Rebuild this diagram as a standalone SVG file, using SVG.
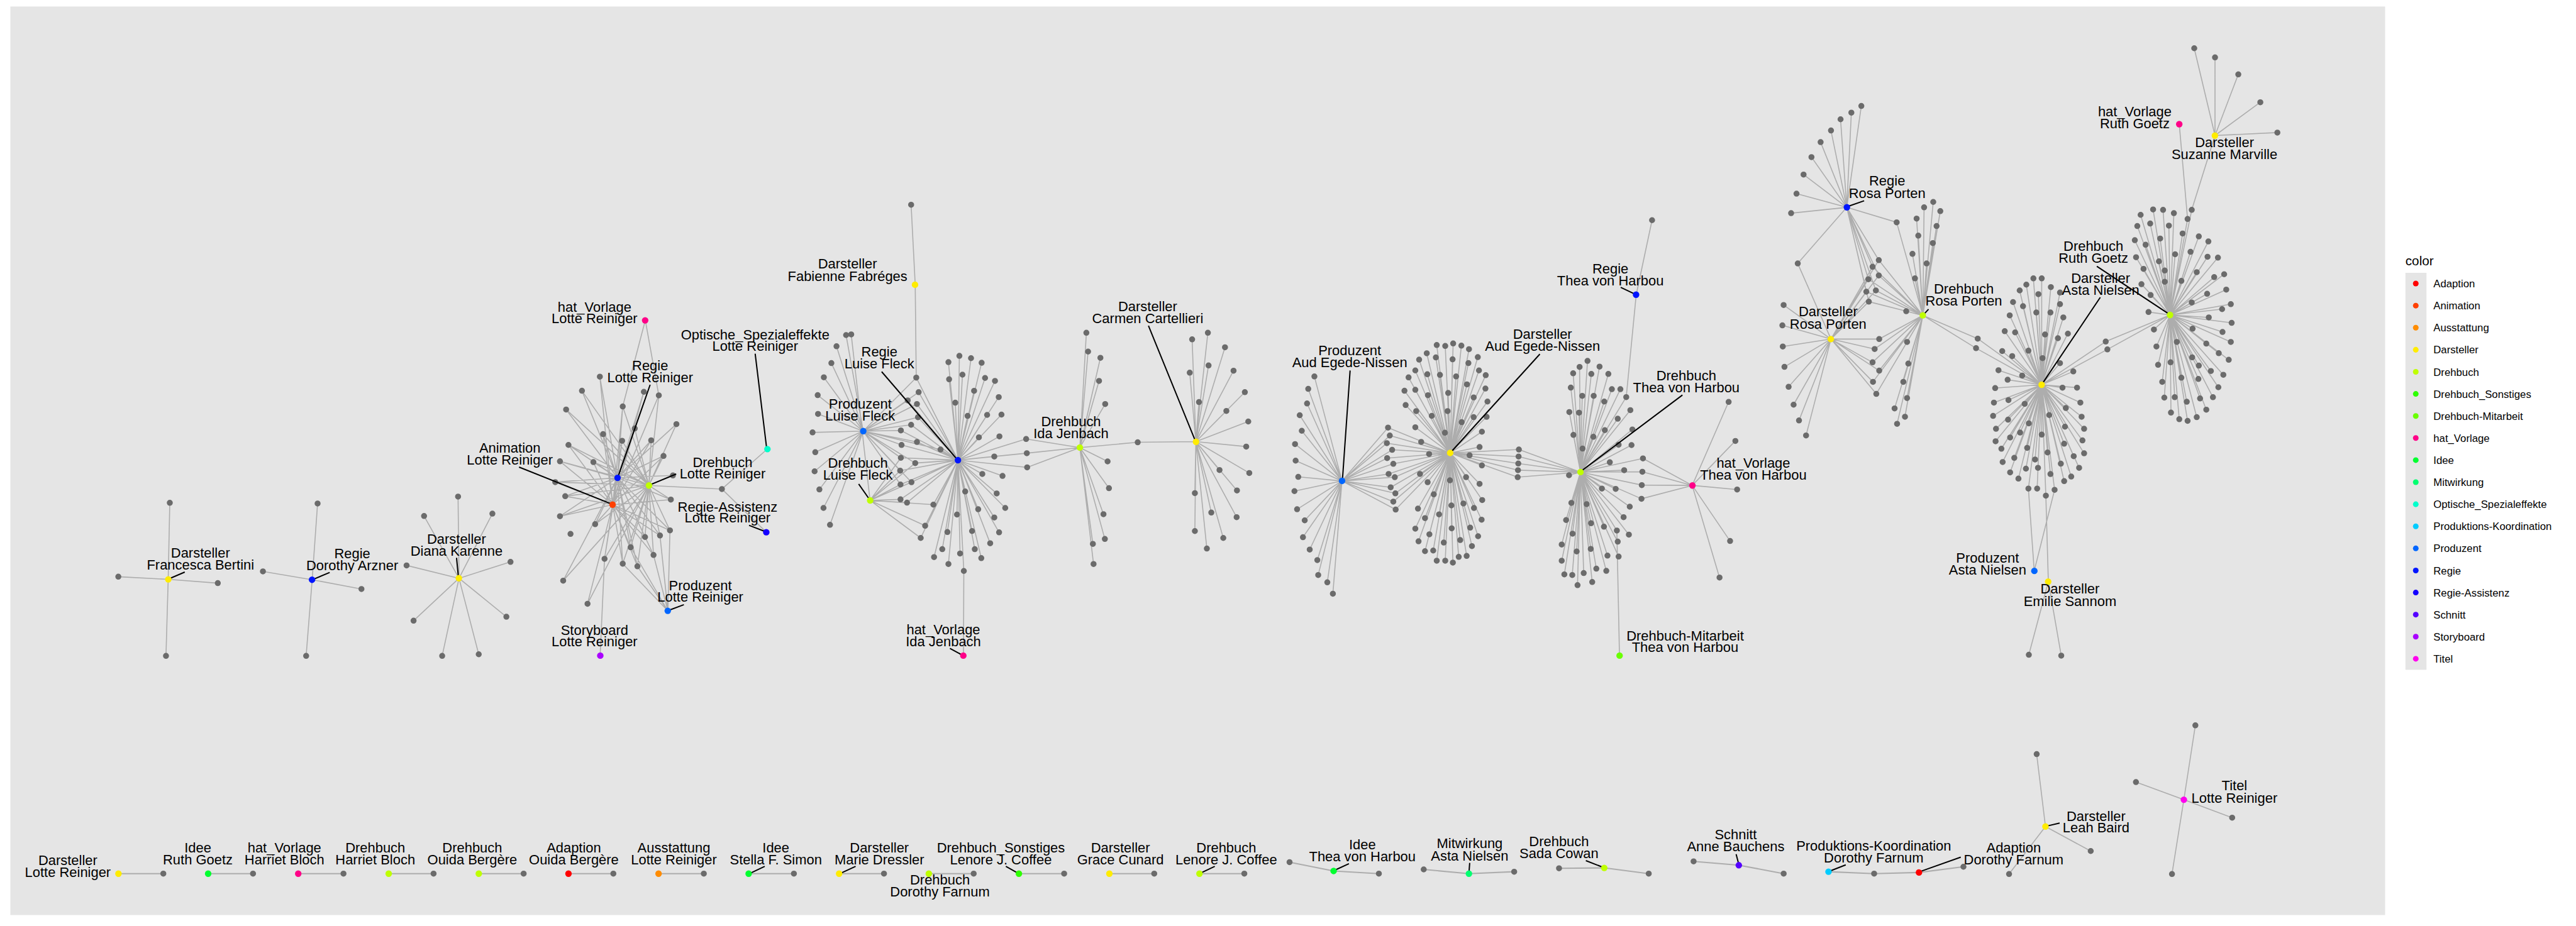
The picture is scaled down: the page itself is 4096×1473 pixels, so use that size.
<svg xmlns="http://www.w3.org/2000/svg" width="4096" height="1473" viewBox="0 0 4096 1473">
<style>
.e{fill:none;stroke:#ADADAD;stroke-width:1.6;stroke-linejoin:round;stroke-linecap:round;vector-effect:non-scaling-stroke}
.eb{fill:none;stroke:#ADADAD;stroke-width:2.1;stroke-linecap:round;vector-effect:non-scaling-stroke}
.n{fill:none;stroke:#6B6B6B;stroke-width:9.5;stroke-linecap:round;vector-effect:non-scaling-stroke}
.s{fill:none;stroke:#000;stroke-width:3.3}
.t{font-family:"Liberation Sans",Arial,Helvetica,sans-serif;font-size:36px;fill:#000;text-anchor:middle}
.lg{font-family:"Liberation Sans",Arial,Helvetica,sans-serif;font-size:27.5px;fill:#000}
.lt{font-family:"Liberation Sans",Arial,Helvetica,sans-serif;font-size:34px;fill:#000}
.ada{fill:#FF0000}.ani{fill:#FF4000}.aus{fill:#FF8C00}.dar{fill:#FFEC00}.dre{fill:#BFFF00}.dso{fill:#2EFF00}.dmi{fill:#6AFF00}.hvo{fill:#FF0088}.ide{fill:#00FF30}.mit{fill:#00FF70}.opt{fill:#00FFCC}.pko{fill:#00CCFF}.pro{fill:#0066FF}.reg{fill:#0015FF}.ras{fill:#1500FF}.sch{fill:#5500FF}.sto{fill:#AA00FF}.tit{fill:#FF00EE}
</style>
<rect width="4096" height="1473" fill="#FFFFFF"/>
<g transform="scale(0.609524)">
<rect x="27" y="17" width="6195" height="2371" fill="#E5E5E5"/>

<g id="connectors">
<g transform="translate(200 1200) scale(.8291 .3827)">
<path class="e" d="M293 293 288 815 131 797M444 841 288 815 281 1337M758 298 741 818 586 761M896 881 741 818 722 1337M1200 251 1203 808 1093 383 1203 808 1308 367 1203 808 1038 720 1203 808 1365 696 1203 808 1060 1097 1203 808 1352 1070 1203 808 1150 1337 1203 808 1265 1326"/>
</g>
<g transform="translate(1000 750) scale(.7653 .6696)">
<path class="e" d="M798 742 738 348 782 847M798 742 677 403 905 772M798 742 888 407 782 847M905 772 939 421 782 847M939 421 893 128 816 464 798 742M798 742 623 476 905 772M905 772 816 464 782 847M798 742 857 550 905 772 857 550 782 847M798 742 999 533 905 772M798 742 749 572 905 772 749 572 782 847M798 742 631 614 905 772 631 614 782 847M798 742 814 598 905 772 814 598 782 847M798 742 913 596 905 772 913 596 782 847M798 742 955 657 905 772 955 657 782 847M798 742 602 678 905 772 602 678 782 847M798 742 716 681 905 772 716 681 782 847M798 742 987 733 905 772M798 742 586 759 905 772 586 759 782 847M798 742 620 814 905 772 620 814 782 847M798 742 980 827 905 772 980 827 782 847M798 742 602 892 905 772 602 892 782 847M798 742 722 923 905 772 722 923 782 847M798 742 977 947 905 772 977 947 782 847M977 947 970 1261M798 742 892 973 905 772 892 973 782 847M798 742 943 967 905 772 943 967 782 847M943 967 970 1261M798 742 843 1013 905 772 843 1013 782 847M843 1013 970 1261M798 742 921 1043 905 772 921 1043 782 847M921 1043 970 1261M798 742 754 1058 905 772 754 1058 782 847M754 1058 739 1436M798 742 816 1077 905 772 816 1077 782 847M816 1077 970 1261M798 742 866 1087 905 772 866 1087 782 847M866 1087 970 1261M798 742 613 1143 905 772M782 847 696 1233 905 772M905 772 1154 786 1309 630M1154 786 1306 955"/>
</g>
<g transform="translate(2050 450) scale(.8929 .861)">
<path class="e" d="M366 98 378 340 381 622M226 784 176 493 226 784 148 527 226 784 133 578 226 784 111 621 226 784 93 675 226 784 94 732 226 784 78 788 226 784 86 848 226 784 84 906 226 784 98 961 226 784 110 1017 226 784 129 1068M191 491 246 994M226 784 381 622 503 872 388 666 226 784 356 691 503 872 383 702 226 784 386 742 503 872 366 765 226 784 336 782 503 872 383 817 226 784 338 826 503 872 452 840 226 784M226 784 336 865 503 872 378 881 226 784 334 904 503 872 367 939 226 784 335 946 503 872M246 994 336 865 246 994 378 881 246 994 334 904 246 994 367 939 246 994 335 946M246 994 335 991 503 872 354 1001 246 994 431 1007 503 872 407 1071 246 994 394 1108 503 872M503 872 475 575 503 872 507 556 503 872 541 563 503 872 572 577 503 872 477 627 503 872 516 613 503 872 582 623 503 872 611 632 503 872 550 662 503 872 622 681 503 872 495 698 503 872 531 738 503 872 588 735 503 872 630 734 503 872 564 803 503 872 624 800 503 872 609 861 503 872 574 914 503 872 633 920 503 872 524 967 503 872 616 973 503 872 641 1017 503 872 562 1021 503 872 500 1037 503 872 609 1046 503 872 472 1090 503 872 544 1087 503 872 623 1091 503 872 597 1124 503 872 457 1142 503 872 552 1142 503 872 433 1166 503 872 509 1155 503 872 475 1187 503 872 571 1169 503 872 520 1208M503 872 702 808 859 834 704 851 503 872 705 894 859 834M859 834 878 486 859 834 883 543 859 834 919 562 859 834 915 632 859 834 933 702 859 834 940 876 859 834 944 957 859 834 928 1036 859 834 932 1111 859 834 897 1126 859 834 899 1187M859 834 1028 818 1198 816M1198 816 1187 506 1198 816 1233 486 1198 816 1283 530 1198 816 1180 607 1198 816 1235 585 1198 816 1308 601 1198 816 1341 666 1198 816 1207 696 1198 816 1287 723 1198 816 1351 755 1198 816 1345 831 1198 816 1354 911 1198 816 1267 902 1198 816 1318 964 1198 816 1195 972 1198 816 1317 1045 1198 816 1243 1031 1198 816 1278 1108 1198 816 1195 1087 1198 816 1230 1140M520 1208 519 1465"/>
</g>
<g transform="translate(3350 500) scale(.7653 .829)">
<path class="e" d="M197 911 103 582 197 911 82 621 197 911 78 667 197 911 53 704 197 911 60 753 197 911 37 795 197 911 39 847 197 911 48 898 197 911 35 943 197 911 44 1000 197 911 70 1035 197 911 64 1088 197 911 87 1127 197 911 113 1160 197 911 116 1207 197 911 147 1230 197 911 166 1266M197 911 354 743 566 823 360 768 197 911 350 792 566 823 368 813 197 911 351 839 566 823 372 857 197 911 356 889 566 823 377 899 197 911 363 931 566 823 379 950 197 911 372 976 566 823 380 1001 197 911M566 823 520 483 566 823 549 486 566 823 576 478 566 823 604 485 566 823 630 496 566 823 486 509 566 823 517 522 566 823 574 528 566 823 628 540 566 823 660 521 566 823 460 529 566 823 447 563 566 823 488 575 566 823 531 577 566 823 586 582 566 823 664 563 566 823 687 578 566 823 424 585 566 823 410 627 566 823 447 624 566 823 490 641 566 823 559 634 566 823 623 607 566 823 686 620 566 823 646 648 566 823 414 672 566 823 450 691 566 823 503 706 566 823 557 691 566 823 605 726 566 823 646 710 566 823 690 709 566 823 693 661 566 823 447 742 566 823 467 788 566 823 548 759 566 823 494 826 566 823 674 756 566 823 666 804 566 823 632 830 566 823 674 862 566 823 463 889 566 823 489 915 566 823 565 909 566 823 620 899 566 823 666 920 566 823 510 953 566 823 456 998 566 823 570 988 566 823 611 982 566 823 647 996 566 823 675 971 566 823 528 1016 566 823 480 1028 566 823 447 1061 566 823 571 1060 566 823 634 1058 566 823 673 1033 566 823 495 1079 566 823 458 1101 566 823 544 1105 566 823 600 1097 566 823 661 1085 566 823 480 1132 566 823 508 1130 566 823 640 1116 566 823 520 1162 566 823 549 1162 566 823 575 1168 566 823 595 1150 566 823 622 1147M566 823 800 812 1010 883 799 834 566 823 798 856 1010 883 797 877 566 823 796 899 1010 883M1010 883 1007 552 1010 883 1034 533 1010 883 1075 551 1010 883 985 572 1010 883 1047 574 1010 883 1105 574 1010 883 977 617 1010 883 1016 643 1010 883 1055 643 1010 883 1117 622 1010 883 1146 622 1010 883 1166 647 1010 883 972 694 1010 883 1005 696 1010 883 1091 661 1010 883 1180 688 1010 883 986 766 1010 883 1054 772 1010 883 1093 751 1010 883 1137 715 1010 883 1187 749 1010 883 1017 809 1010 883 1140 797 1010 883 1184 798 1010 883 971 893 1010 883 1110 852 1010 883 1159 877 1010 883 1083 935 1010 883 1130 936 1010 883 1178 992 1010 883 1157 1025 1010 883 979 980 1010 883 1031 984 1010 883 961 1034 1010 883 1046 1044 1010 883 1090 1055 1010 883 1134 1067 1010 883 1175 1080 1010 883 983 1077 1010 883 946 1111 1010 883 1137 1102 1010 883 997 1133 1010 883 1045 1125 1010 883 946 1162 1010 883 1102 1146 1010 883 1140 1149 1010 883 955 1205 1010 883 982 1207 1010 883 1021 1201 1010 883 1064 1187 1010 883 1098 1194 1010 883 1000 1239 1010 883 1050 1229M1010 883 1223 840 1391 925 1221 882 1010 883 1219 924 1391 925 1218 967 1010 883M1391 925 1515 662 1391 925 1538 785 1391 925 1544 938 1391 925 1520 1100 1391 925 1484 1215M1254 90 1200 325 1166 647M1143 1461 1134 1067"/>
</g>
<g transform="translate(4500 50) scale(1.0842)">
<path class="e" d="M293 453 328 209 293 453 304 225 293 453 278 241 293 453 255 268 293 453 230 296 293 453 208 332 293 453 189 374 293 453 172 420 293 453 159 467M293 453 413 489 476 713M293 453 175 588 255 770M293 453 370 580 476 713 355 596 293 453 370 617 476 713 345 626 293 453 340 656 476 713 363 653 293 453 346 680 476 713M255 770 370 580 255 770 355 596 255 770 370 617 255 770 345 626 255 770 340 656 255 770 363 653 255 770 346 680M255 770 141 688 255 770 138 737 255 770 139 788 255 770 143 837 255 770 153 885 255 770 165 928 255 770 178 966 255 770 195 1002M255 770 371 770 476 713 360 794 255 770 355 826 476 713 371 846 255 770 356 873 476 713 364 902 255 770M476 713 501 440 476 713 479 453 476 713 518 462 476 713 461 480 476 713 509 498 476 713 465 521 476 713 500 539 476 713 451 565 476 713 485 588 476 713 457 624 476 713 436 703 476 713 438 777 476 713 441 829 476 713 429 873 476 713 438 912 476 713 408 937 476 713 433 957 476 713 414 974M476 713 608 769 762 880 604 792 476 713M762 880 742 624 762 880 762 624 762 880 725 639 762 880 709 653 762 880 784 645 762 880 754 662 762 880 806 658 762 880 693 681 762 880 717 691 762 880 806 686 762 880 685 713 762 880 749 706 762 880 783 706 762 880 814 718 762 880 673 751 762 880 698 754 762 880 770 759 762 880 801 768 762 880 825 757 762 880 730 798 762 880 667 799 762 880 691 811 762 880 764 816 762 880 806 828 762 880 658 845 762 880 715 858 762 880 838 848 762 880 680 868 762 880 650 888 762 880 812 887 762 880 847 887 762 880 682 917 762 880 647 923 762 880 855 923 762 880 721 926 762 880 820 936 762 880 645 955 762 880 681 964 762 880 780 953 762 880 858 957 762 880 731 973 762 880 818 981 762 880 652 986 762 880 864 986 762 880 710 995 762 880 762 1000 762 880 651 1016 762 880 686 1007 762 880 816 1022 762 880 860 1014 762 880 665 1034 762 880 727 1032 762 880 776 1043 762 880 839 1052 762 880 864 1045 762 880 696 1056 762 880 746 1060 762 880 808 1070 762 880 852 1080 762 880 668 1066 762 880 686 1091 762 880 724 1082 762 880 753 1080 762 880 783 1095 762 880 833 1101 762 880 706 1106 762 880 816 1112 762 880 730 1130 762 880 751 1130 762 880 772 1147 762 880 793 1133M762 880 916 776 1071 712 920 795 762 880M1071 712 1000 471 1071 712 1030 458 1071 712 1054 459 1071 712 1080 467 1071 712 992 498 1071 712 1023 492 1071 712 1068 497 1071 712 1113 481 1071 712 1123 459 1071 712 986 532 1071 712 1012 543 1071 712 1047 528 1071 712 1101 516 1071 712 1140 523 1071 712 1163 535 1071 712 989 573 1071 712 1044 583 1071 712 1083 566 1071 712 1120 560 1071 712 1161 572 1071 712 1186 574 1071 712 1007 601 1071 712 1058 605 1071 712 1098 630 1071 712 1135 609 1071 712 1177 621 1071 712 1201 614 1071 712 1002 638 1071 712 1058 632 1071 712 1024 664 1071 712 1160 661 1071 712 1206 651 1071 712 1123 682 1071 712 1217 686 1071 712 1019 705 1071 712 1032 747 1071 712 1164 718 1071 712 1196 698 1071 712 1219 731 1071 712 1125 745 1071 712 1197 753 1071 712 1217 777 1071 712 1038 788 1071 712 1087 777 1071 712 1158 781 1071 712 1188 804 1071 712 1212 820 1071 712 1042 832 1071 712 1072 826 1071 712 1124 814 1071 712 1140 834 1071 712 1169 847 1071 712 1199 856 1071 712 1098 863 1071 712 1052 873 1071 712 1139 866 1071 712 1187 886 1071 712 1057 911 1071 712 1082 910 1071 712 1111 921 1071 712 1143 913 1071 712 1174 910 1071 712 1073 947 1071 712 1093 963 1071 712 1113 967 1071 712 1135 958 1071 712 1158 940M1093 253 1113 481M1179 280 1123 459M1179 280 1129 70 1179 280 1179 92 1179 280 1235 133 1179 280 1288 200 1179 280 1329 273M730 1130 744 1328 793 1133M772 1147 778 1354 731 1530M778 1354 809 1532"/>
</g>
<path class="eb" d="M309 2280H426M543 2280H660M778 2280H896M1014 2280H1131M1249 2280H1366M1483 2280H1600M1718 2280H1836M1953 2280H2071M2189 2280H2306M2423 2280H2540M2658 2280H2776M2894 2280H3011M3129 2280H3246M3364 2250 3479 2273 3597 2280M3714 2269 3832 2280 3950 2275M4067 2266 4185 2265 4301 2280M4418 2248 4536 2258 4653 2280M4770 2275 4889 2280 5006 2277 5122 2262"/>
<path class="e" d="M5313 1968 5336 2157 5241 2281M5336 2157 5454 2221M5727 1893 5697 2087 5666 2281M5572 2041 5697 2087 5823 2134"/>
</g>

<g id="leaf-nodes">
<path class="n" transform="translate(200 1200) scale(.8291 .3827)" d="M293 293h.1M131 797h.1M444 841h.1M281 1337h.1M758 298h.1M586 761h.1M896 881h.1M722 1337h.1M1200 251h.1M1093 383h.1M1308 367h.1M1038 720h.1M1365 696h.1M1060 1097h.1M1352 1070h.1M1150 1337h.1M1265 1326h.1"/>
<path class="n" transform="translate(1000 750) scale(.7653 .6696)" d="M738 348h.1M677 403h.1M888 407h.1M939 421h.1M623 476h.1M816 464h.1M857 550h.1M999 533h.1M749 572h.1M631 614h.1M814 598h.1M913 596h.1M955 657h.1M602 678h.1M716 681h.1M987 733h.1M586 759h.1M620 814h.1M980 827h.1M602 892h.1M722 923h.1M638 961h.1M977 947h.1M892 973h.1M943 967h.1M843 1013h.1M921 1043h.1M754 1058h.1M816 1077h.1M866 1087h.1M613 1143h.1M696 1233h.1M1154 786h.1"/>
<path class="n" transform="translate(2050 450) scale(.8929 .861)" d="M366 98h.1M381 622h.1M176 493h.1M191 491h.1M148 527h.1M133 578h.1M111 621h.1M93 675h.1M94 732h.1M78 788h.1M86 848h.1M84 906h.1M98 961h.1M110 1017h.1M129 1068h.1M388 666h.1M356 691h.1M383 702h.1M386 742h.1M366 765h.1M336 782h.1M383 817h.1M338 826h.1M452 840h.1M336 865h.1M378 881h.1M334 904h.1M367 939h.1M335 946h.1M335 991h.1M354 1001h.1M431 1007h.1M407 1071h.1M394 1108h.1M475 575h.1M507 556h.1M541 563h.1M572 577h.1M477 627h.1M516 613h.1M582 623h.1M611 632h.1M550 662h.1M622 681h.1M495 698h.1M531 738h.1M588 735h.1M630 734h.1M564 803h.1M624 800h.1M609 861h.1M574 914h.1M633 920h.1M524 967h.1M616 973h.1M641 1017h.1M562 1021h.1M500 1037h.1M609 1046h.1M472 1090h.1M544 1087h.1M623 1091h.1M597 1124h.1M457 1142h.1M552 1142h.1M433 1166h.1M509 1155h.1M475 1187h.1M571 1169h.1M520 1208h.1M702 808h.1M704 851h.1M705 894h.1M878 486h.1M883 543h.1M919 562h.1M915 632h.1M933 702h.1M940 876h.1M944 957h.1M928 1036h.1M932 1111h.1M897 1126h.1M899 1187h.1M1028 818h.1M1187 506h.1M1233 486h.1M1283 530h.1M1180 607h.1M1235 585h.1M1308 601h.1M1341 666h.1M1207 696h.1M1287 723h.1M1351 755h.1M1345 831h.1M1354 911h.1M1267 902h.1M1318 964h.1M1195 972h.1M1317 1045h.1M1243 1031h.1M1278 1108h.1M1195 1087h.1M1230 1140h.1"/>
<path class="n" transform="translate(3350 500) scale(.7653 .829)" d="M103 582h.1M82 621h.1M78 667h.1M53 704h.1M60 753h.1M37 795h.1M39 847h.1M48 898h.1M35 943h.1M44 1000h.1M70 1035h.1M64 1088h.1M87 1127h.1M113 1160h.1M116 1207h.1M147 1230h.1M166 1266h.1M354 743h.1M360 768h.1M350 792h.1M368 813h.1M351 839h.1M372 857h.1M356 889h.1M377 899h.1M363 931h.1M379 950h.1M372 976h.1M380 1001h.1M520 483h.1M549 486h.1M576 478h.1M604 485h.1M630 496h.1M486 509h.1M517 522h.1M574 528h.1M628 540h.1M660 521h.1M460 529h.1M447 563h.1M488 575h.1M531 577h.1M586 582h.1M664 563h.1M687 578h.1M424 585h.1M410 627h.1M447 624h.1M490 641h.1M559 634h.1M623 607h.1M686 620h.1M646 648h.1M414 672h.1M450 691h.1M503 706h.1M557 691h.1M605 726h.1M646 710h.1M690 709h.1M693 661h.1M447 742h.1M467 788h.1M548 759h.1M494 826h.1M674 756h.1M666 804h.1M632 830h.1M674 862h.1M463 889h.1M489 915h.1M565 909h.1M620 899h.1M666 920h.1M510 953h.1M456 998h.1M570 988h.1M611 982h.1M647 996h.1M675 971h.1M528 1016h.1M480 1028h.1M447 1061h.1M571 1060h.1M634 1058h.1M673 1033h.1M495 1079h.1M458 1101h.1M544 1105h.1M600 1097h.1M661 1085h.1M480 1132h.1M508 1130h.1M640 1116h.1M520 1162h.1M549 1162h.1M575 1168h.1M595 1150h.1M622 1147h.1M800 812h.1M799 834h.1M798 856h.1M797 877h.1M796 899h.1M1007 552h.1M1034 533h.1M1075 551h.1M985 572h.1M1047 574h.1M1105 574h.1M977 617h.1M1016 643h.1M1055 643h.1M1117 622h.1M1146 622h.1M1166 647h.1M972 694h.1M1005 696h.1M1091 661h.1M1180 688h.1M986 766h.1M1054 772h.1M1093 751h.1M1137 715h.1M1187 749h.1M1017 809h.1M1140 797h.1M1184 798h.1M971 893h.1M1110 852h.1M1159 877h.1M1083 935h.1M1130 936h.1M1178 992h.1M1157 1025h.1M979 980h.1M1031 984h.1M961 1034h.1M1046 1044h.1M1090 1055h.1M1134 1067h.1M1175 1080h.1M983 1077h.1M946 1111h.1M1137 1102h.1M997 1133h.1M1045 1125h.1M946 1162h.1M1102 1146h.1M1140 1149h.1M955 1205h.1M982 1207h.1M1021 1201h.1M1064 1187h.1M1098 1194h.1M1000 1239h.1M1050 1229h.1M1223 840h.1M1221 882h.1M1219 924h.1M1218 967h.1M1515 662h.1M1538 785h.1M1544 938h.1M1520 1100h.1M1484 1215h.1M1254 90h.1"/>
<path class="n" transform="translate(4500 50) scale(1.0842)" d="M328 209h.1M304 225h.1M278 241h.1M255 268h.1M230 296h.1M208 332h.1M189 374h.1M172 420h.1M159 467h.1M413 489h.1M175 588h.1M370 580h.1M355 596h.1M370 617h.1M345 626h.1M340 656h.1M363 653h.1M346 680h.1M141 688h.1M138 737h.1M139 788h.1M143 837h.1M153 885h.1M165 928h.1M178 966h.1M195 1002h.1M371 770h.1M360 794h.1M355 826h.1M371 846h.1M356 873h.1M364 902h.1M501 440h.1M479 453h.1M518 462h.1M461 480h.1M509 498h.1M465 521h.1M500 539h.1M451 565h.1M485 588h.1M457 624h.1M436 703h.1M438 777h.1M441 829h.1M429 873h.1M438 912h.1M408 937h.1M433 957h.1M414 974h.1M608 769h.1M604 792h.1M742 624h.1M762 624h.1M725 639h.1M709 653h.1M784 645h.1M754 662h.1M806 658h.1M693 681h.1M717 691h.1M806 686h.1M685 713h.1M749 706h.1M783 706h.1M814 718h.1M673 751h.1M698 754h.1M770 759h.1M801 768h.1M825 757h.1M730 798h.1M667 799h.1M691 811h.1M764 816h.1M806 828h.1M658 845h.1M715 858h.1M838 848h.1M680 868h.1M650 888h.1M812 887h.1M847 887h.1M682 917h.1M647 923h.1M855 923h.1M721 926h.1M820 936h.1M645 955h.1M681 964h.1M780 953h.1M858 957h.1M731 973h.1M818 981h.1M652 986h.1M864 986h.1M710 995h.1M762 1000h.1M651 1016h.1M686 1007h.1M816 1022h.1M860 1014h.1M665 1034h.1M727 1032h.1M776 1043h.1M839 1052h.1M864 1045h.1M696 1056h.1M746 1060h.1M808 1070h.1M852 1080h.1M668 1066h.1M686 1091h.1M724 1082h.1M753 1080h.1M783 1095h.1M833 1101h.1M706 1106h.1M816 1112h.1M730 1130h.1M751 1130h.1M772 1147h.1M793 1133h.1M916 776h.1M920 795h.1M1000 471h.1M1030 458h.1M1054 459h.1M1080 467h.1M992 498h.1M1023 492h.1M1068 497h.1M1113 481h.1M1123 459h.1M986 532h.1M1012 543h.1M1047 528h.1M1101 516h.1M1140 523h.1M1163 535h.1M989 573h.1M1044 583h.1M1083 566h.1M1120 560h.1M1161 572h.1M1186 574h.1M1007 601h.1M1058 605h.1M1098 630h.1M1135 609h.1M1177 621h.1M1201 614h.1M1002 638h.1M1058 632h.1M1024 664h.1M1160 661h.1M1206 651h.1M1123 682h.1M1217 686h.1M1019 705h.1M1032 747h.1M1164 718h.1M1196 698h.1M1219 731h.1M1125 745h.1M1197 753h.1M1217 777h.1M1038 788h.1M1087 777h.1M1158 781h.1M1188 804h.1M1212 820h.1M1042 832h.1M1072 826h.1M1124 814h.1M1140 834h.1M1169 847h.1M1199 856h.1M1098 863h.1M1052 873h.1M1139 866h.1M1187 886h.1M1057 911h.1M1082 910h.1M1111 921h.1M1143 913h.1M1174 910h.1M1073 947h.1M1093 963h.1M1113 967h.1M1135 958h.1M1158 940h.1M1129 70h.1M1179 92h.1M1235 133h.1M1288 200h.1M1329 273h.1M731 1530h.1M809 1532h.1"/>
<path class="n" d="M426 2280h.1M660 2280h.1M896 2280h.1M1131 2280h.1M1366 2280h.1M1600 2280h.1M1836 2280h.1M2071 2280h.1M2306 2280h.1M2540 2280h.1M2776 2280h.1M3011 2280h.1M3246 2280h.1M3364 2250h.1M3597 2280h.1M3714 2269h.1M3950 2275h.1M4067 2266h.1M4301 2280h.1M4418 2248h.1M4653 2280h.1M4889 2280h.1M5122 2262h.1M5313 1968h.1M5241 2281h.1M5454 2221h.1M5727 1893h.1M5572 2041h.1M5823 2134h.1M5666 2281h.1"/>
</g>

<g id="label-segments">
<path class="s" d="M482 1493 440 1511M860 1494 817 1512M1191 1456 1196 1508M1970 923 2000 1170M1696 1004 1612 1245M1354 1219 1597 1316M1764 1237 1694 1266M1954 1371 1998 1388M1784 1578 1744 1593M2300 970 2497 1199M2240 1263 2268 1303M2996 850 3118 1150M2478 1692 2511 1710M3522 967 3502 1253M4017 924 3785 1180M4228 750 4266 768M4389 1031 4124 1230M4863 524 4820 539M5031 807 5018 821M5470 695 5659 820M5479 776 5328 1001M1995 2261 1957 2279M2232 2261 2193 2279M2624 2261 2656 2279M3169 2261 3131 2279M3519 2254 3482 2271M3834 2252 3832 2279M4137 2246 4183 2264M4529 2229 4536 2256M4815 2257 4772 2274M5115 2237 5008 2275M5373 2148 5339 2156"/>
</g>

<g id="node-darsteller-francesca-bertini"><circle class="dar" cx="439" cy="1512" r="8.5"/><text class="t" x="523" y="1456">Darsteller<tspan x="523" y="1487">Francesca Bertini</tspan></text></g>
<g id="node-regie-dorothy-arzner"><circle class="reg" cx="814" cy="1513" r="8.5"/><text class="t" x="919" y="1457">Regie<tspan x="919" y="1488">Dorothy Arzner</tspan></text></g>
<g id="node-darsteller-diana-karenne"><circle class="dar" cx="1197" cy="1509" r="8.5"/><text class="t" x="1191" y="1419">Darsteller<tspan x="1191" y="1450">Diana Karenne</tspan></text></g>
<g id="node-hat-vorlage-lotte-reiniger"><circle class="hvo" cx="1683" cy="836" r="8.5"/><text class="t" x="1551" y="814">hat_Vorlage<tspan x="1551" y="844">Lotte Reiniger</tspan></text></g>
<g id="node-optische-spezialeffekte-lotte-reiniger"><circle class="opt" cx="2002" cy="1172" r="8.5"/><text class="t" x="1970" y="886">Optische_Spezialeffekte<tspan x="1970" y="916">Lotte Reiniger</tspan></text></g>
<g id="node-regie-lotte-reiniger"><circle class="reg" cx="1611" cy="1247" r="8.5"/><text class="t" x="1696" y="966">Regie<tspan x="1696" y="997">Lotte Reiniger</tspan></text></g>
<g id="node-animation-lotte-reiniger"><circle class="ani" cx="1598" cy="1317" r="8.5"/><text class="t" x="1330" y="1182">Animation<tspan x="1330" y="1212">Lotte Reiniger</tspan></text></g>
<g id="node-drehbuch-lotte-reiniger"><circle class="dre" cx="1693" cy="1267" r="8.5"/><text class="t" x="1885" y="1219">Drehbuch<tspan x="1885" y="1249">Lotte Reiniger</tspan></text></g>
<g id="node-regie-assistenz-lotte-reiniger"><circle class="ras" cx="1999" cy="1389" r="8.5"/><text class="t" x="1898" y="1335">Regie-Assistenz<tspan x="1898" y="1364">Lotte Reiniger</tspan></text></g>
<g id="node-produzent-lotte-reiniger"><circle class="pro" cx="1742" cy="1594" r="8.5"/><text class="t" x="1827" y="1540">Produzent<tspan x="1827" y="1570">Lotte Reiniger</tspan></text></g>
<g id="node-storyboard-lotte-reiniger"><circle class="sto" cx="1566" cy="1711" r="8.5"/><text class="t" x="1551" y="1657">Storyboard<tspan x="1551" y="1687">Lotte Reiniger</tspan></text></g>
<g id="node-darsteller-fabienne-fabreges"><circle class="dar" cx="2387" cy="743" r="8.5"/><text class="t" x="2211" y="701">Darsteller<tspan x="2211" y="734">Fabienne Fabréges</tspan></text></g>
<g id="node-regie-luise-fleck"><circle class="reg" cx="2499" cy="1201" r="8.5"/><text class="t" x="2294" y="930">Regie<tspan x="2294" y="961">Luise Fleck</tspan></text></g>
<g id="node-produzent-luise-fleck"><circle class="pro" cx="2252" cy="1125" r="8.5"/><text class="t" x="2244" y="1066">Produzent<tspan x="2244" y="1097">Luise Fleck</tspan></text></g>
<g id="node-drehbuch-luise-fleck"><circle class="dre" cx="2270" cy="1306" r="8.5"/><text class="t" x="2238" y="1221">Drehbuch<tspan x="2238" y="1252">Luise Fleck</tspan></text></g>
<g id="node-drehbuch-ida-jenbach"><circle class="dre" cx="2817" cy="1168" r="8.5"/><text class="t" x="2794" y="1113">Drehbuch<tspan x="2794" y="1144">Ida Jenbach</tspan></text></g>
<g id="node-darsteller-carmen-cartellieri"><circle class="dar" cx="3120" cy="1153" r="8.5"/><text class="t" x="2994" y="812">Darsteller<tspan x="2994" y="843">Carmen Cartellieri</tspan></text></g>
<g id="node-hat-vorlage-ida-jenbach"><circle class="hvo" cx="2513" cy="1711" r="8.5"/><text class="t" x="2461" y="1655">hat_Vorlage<tspan x="2461" y="1686">Ida Jenbach</tspan></text></g>
<g id="node-produzent-aud-egede-nissen"><circle class="pro" cx="3501" cy="1255" r="8.5"/><text class="t" x="3521" y="927">Produzent<tspan x="3521" y="958">Aud Egede-Nissen</tspan></text></g>
<g id="node-darsteller-aud-egede-nissen"><circle class="dar" cx="3783" cy="1182" r="8.5"/><text class="t" x="4024" y="885">Darsteller<tspan x="4024" y="916">Aud Egede-Nissen</tspan></text></g>
<g id="node-regie-thea-von-harbou"><circle class="reg" cx="4268" cy="769" r="8.5"/><text class="t" x="4201" y="713">Regie<tspan x="4201" y="745">Thea von Harbou</tspan></text></g>
<g id="node-drehbuch-thea-von-harbou"><circle class="dre" cx="4123" cy="1232" r="8.5"/><text class="t" x="4399" y="993">Drehbuch<tspan x="4399" y="1024">Thea von Harbou</tspan></text></g>
<g id="node-hat-vorlage-thea-von-harbou"><circle class="hvo" cx="4415" cy="1267" r="8.5"/><text class="t" x="4574" y="1221">hat_Vorlage<tspan x="4574" y="1252">Thea von Harbou</tspan></text></g>
<g id="node-drehbuch-mitarbeit-thea-von-harbou"><circle class="dmi" cx="4225" cy="1711" r="8.5"/><text class="t" x="4396" y="1671">Drehbuch-Mitarbeit<tspan x="4396" y="1702">Thea von Harbou</tspan></text></g>
<g id="node-regie-rosa-porten"><circle class="reg" cx="4818" cy="541" r="8.5"/><text class="t" x="4923" y="484">Regie<tspan x="4923" y="516">Rosa Porten</tspan></text></g>
<g id="node-darsteller-rosa-porten"><circle class="dar" cx="4776" cy="885" r="8.5"/><text class="t" x="4769" y="826">Darsteller<tspan x="4769" y="858">Rosa Porten</tspan></text></g>
<g id="node-drehbuch-rosa-porten"><circle class="dre" cx="5016" cy="823" r="8.5"/><text class="t" x="5123" y="766">Drehbuch<tspan x="5123" y="798">Rosa Porten</tspan></text></g>
<g id="node-drehbuch-ruth-goetz"><circle class="dre" cx="5661" cy="822" r="8.5"/><text class="t" x="5461" y="655">Drehbuch<tspan x="5461" y="686">Ruth Goetz</tspan></text></g>
<g id="node-darsteller-asta-nielsen"><circle class="dar" cx="5326" cy="1004" r="8.5"/><text class="t" x="5480" y="738">Darsteller<tspan x="5480" y="769">Asta Nielsen</tspan></text></g>
<g id="node-hat-vorlage-ruth-goetz"><circle class="hvo" cx="5685" cy="324" r="8.5"/><text class="t" x="5569" y="303">hat_Vorlage<tspan x="5569" y="335">Ruth Goetz</tspan></text></g>
<g id="node-darsteller-suzanne-marville"><circle class="dar" cx="5778" cy="354" r="8.5"/><text class="t" x="5803" y="384">Darsteller<tspan x="5803" y="415">Suzanne Marville</tspan></text></g>
<g id="node-produzent-asta-nielsen"><circle class="pro" cx="5307" cy="1490" r="8.5"/><text class="t" x="5185" y="1468">Produzent<tspan x="5185" y="1500">Asta Nielsen</tspan></text></g>
<g id="node-darsteller-emilie-sannom"><circle class="dar" cx="5343" cy="1518" r="8.5"/><text class="t" x="5400" y="1549">Darsteller<tspan x="5400" y="1581">Emilie Sannom</tspan></text></g>

<g id="node-darsteller-lotte-reiniger"><circle class="dar" cx="309" cy="2280" r="8.5"/><text class="t" x="177" y="2257">Darsteller<tspan x="177" y="2288">Lotte Reiniger</tspan></text></g>
<g id="node-idee-ruth-goetz"><circle class="ide" cx="543" cy="2280" r="8.5"/><text class="t" x="516" y="2225">Idee<tspan x="516" y="2256">Ruth Goetz</tspan></text></g>
<g id="node-hat-vorlage-harriet-bloch"><circle class="hvo" cx="778" cy="2280" r="8.5"/><text class="t" x="742" y="2225">hat_Vorlage<tspan x="742" y="2256">Harriet Bloch</tspan></text></g>
<g id="node-drehbuch-harriet-bloch"><circle class="dre" cx="1014" cy="2280" r="8.5"/><text class="t" x="979" y="2225">Drehbuch<tspan x="979" y="2256">Harriet Bloch</tspan></text></g>
<g id="node-drehbuch-ouida-bergere"><circle class="dre" cx="1249" cy="2280" r="8.5"/><text class="t" x="1232" y="2225">Drehbuch<tspan x="1232" y="2256">Ouida Bergère</tspan></text></g>
<g id="node-adaption-ouida-bergere"><circle class="ada" cx="1483" cy="2280" r="8.5"/><text class="t" x="1497" y="2225">Adaption<tspan x="1497" y="2256">Ouida Bergère</tspan></text></g>
<g id="node-ausstattung-lotte-reiniger"><circle class="aus" cx="1718" cy="2280" r="8.5"/><text class="t" x="1758" y="2225">Ausstattung<tspan x="1758" y="2256">Lotte Reiniger</tspan></text></g>
<g id="node-idee-stella-f-simon"><circle class="ide" cx="1953" cy="2280" r="8.5"/><text class="t" x="2024" y="2225">Idee<tspan x="2024" y="2256">Stella F. Simon</tspan></text></g>
<g id="node-darsteller-marie-dressler"><circle class="dar" cx="2189" cy="2280" r="8.5"/><text class="t" x="2294" y="2225">Darsteller<tspan x="2294" y="2256">Marie Dressler</tspan></text></g>
<g id="node-drehbuch-dorothy-farnum"><circle class="dre" cx="2423" cy="2280" r="8.5"/><text class="t" x="2452" y="2309">Drehbuch<tspan x="2452" y="2339">Dorothy Farnum</tspan></text></g>
<g id="node-drehbuch-sonstiges-lenore-j-coffee"><circle class="dso" cx="2658" cy="2280" r="8.5"/><text class="t" x="2611" y="2225">Drehbuch_Sonstiges<tspan x="2611" y="2256">Lenore J. Coffee</tspan></text></g>
<g id="node-darsteller-grace-cunard"><circle class="dar" cx="2894" cy="2280" r="8.5"/><text class="t" x="2923" y="2225">Darsteller<tspan x="2923" y="2256">Grace Cunard</tspan></text></g>
<g id="node-drehbuch-lenore-j-coffee"><circle class="dre" cx="3129" cy="2280" r="8.5"/><text class="t" x="3199" y="2225">Drehbuch<tspan x="3199" y="2256">Lenore J. Coffee</tspan></text></g>
<g id="node-idee-thea-von-harbou"><circle class="ide" cx="3479" cy="2273" r="8.5"/><text class="t" x="3554" y="2216">Idee<tspan x="3554" y="2247">Thea von Harbou</tspan></text></g>
<g id="node-mitwirkung-asta-nielsen"><circle class="mit" cx="3832" cy="2280" r="8.5"/><text class="t" x="3834" y="2214">Mitwirkung<tspan x="3834" y="2246">Asta Nielsen</tspan></text></g>
<g id="node-drehbuch-sada-cowan"><circle class="dre" cx="4185" cy="2265" r="8.5"/><text class="t" x="4067" y="2209">Drehbuch<tspan x="4067" y="2240">Sada Cowan</tspan></text></g>
<g id="node-schnitt-anne-bauchens"><circle class="sch" cx="4536" cy="2258" r="8.5"/><text class="t" x="4528" y="2191">Schnitt<tspan x="4528" y="2222">Anne Bauchens</tspan></text></g>
<g id="node-produktions-koordination-dorothy-farnum"><circle class="pko" cx="4770" cy="2275" r="8.5"/><text class="t" x="4888" y="2219">Produktions-Koordination<tspan x="4888" y="2251">Dorothy Farnum</tspan></text></g>
<g id="node-adaption-dorothy-farnum"><circle class="ada" cx="5006" cy="2277" r="8.5"/><text class="t" x="5253" y="2224">Adaption<tspan x="5253" y="2256">Dorothy Farnum</tspan></text></g>
<g id="node-darsteller-leah-baird"><circle class="dar" cx="5336" cy="2157" r="8.5"/><text class="t" x="5468" y="2143">Darsteller<tspan x="5468" y="2173">Leah Baird</tspan></text></g>
<g id="node-titel-lotte-reiniger"><circle class="tit" cx="5697" cy="2087" r="8.5"/><text class="t" x="5829" y="2063">Titel<tspan x="5829" y="2095">Lotte Reiniger</tspan></text></g>

<g id="legend">
<text class="lt" x="6275" y="692">color</text>
<rect x="6275" y="712" width="55" height="1036" fill="#E5E5E5"/>
<circle class="ada" cx="6302" cy="740" r="7.4"/><text class="lg" x="6348" y="750">Adaption</text>
<circle class="ani" cx="6302" cy="797.6" r="7.4"/><text class="lg" x="6348" y="807.6">Animation</text>
<circle class="aus" cx="6302" cy="855.2" r="7.4"/><text class="lg" x="6348" y="865.2">Ausstattung</text>
<circle class="dar" cx="6302" cy="912.8" r="7.4"/><text class="lg" x="6348" y="922.8">Darsteller</text>
<circle class="dre" cx="6302" cy="970.4" r="7.4"/><text class="lg" x="6348" y="980.4">Drehbuch</text>
<circle class="dso" cx="6302" cy="1028" r="7.4"/><text class="lg" x="6348" y="1038">Drehbuch_Sonstiges</text>
<circle class="dmi" cx="6302" cy="1085.6" r="7.4"/><text class="lg" x="6348" y="1095.6">Drehbuch-Mitarbeit</text>
<circle class="hvo" cx="6302" cy="1143.2" r="7.4"/><text class="lg" x="6348" y="1153.2">hat_Vorlage</text>
<circle class="ide" cx="6302" cy="1200.8" r="7.4"/><text class="lg" x="6348" y="1210.8">Idee</text>
<circle class="mit" cx="6302" cy="1258.4" r="7.4"/><text class="lg" x="6348" y="1268.4">Mitwirkung</text>
<circle class="opt" cx="6302" cy="1316" r="7.4"/><text class="lg" x="6348" y="1326">Optische_Spezialeffekte</text>
<circle class="pko" cx="6302" cy="1373.6" r="7.4"/><text class="lg" x="6348" y="1383.6">Produktions-Koordination</text>
<circle class="pro" cx="6302" cy="1431.2" r="7.4"/><text class="lg" x="6348" y="1441.2">Produzent</text>
<circle class="reg" cx="6302" cy="1488.8" r="7.4"/><text class="lg" x="6348" y="1498.8">Regie</text>
<circle class="ras" cx="6302" cy="1546.4" r="7.4"/><text class="lg" x="6348" y="1556.4">Regie-Assistenz</text>
<circle class="sch" cx="6302" cy="1604" r="7.4"/><text class="lg" x="6348" y="1614">Schnitt</text>
<circle class="sto" cx="6302" cy="1661.6" r="7.4"/><text class="lg" x="6348" y="1671.6">Storyboard</text>
<circle class="tit" cx="6302" cy="1719.2" r="7.4"/><text class="lg" x="6348" y="1729.2">Titel</text>
</g>
</g>
</svg>
